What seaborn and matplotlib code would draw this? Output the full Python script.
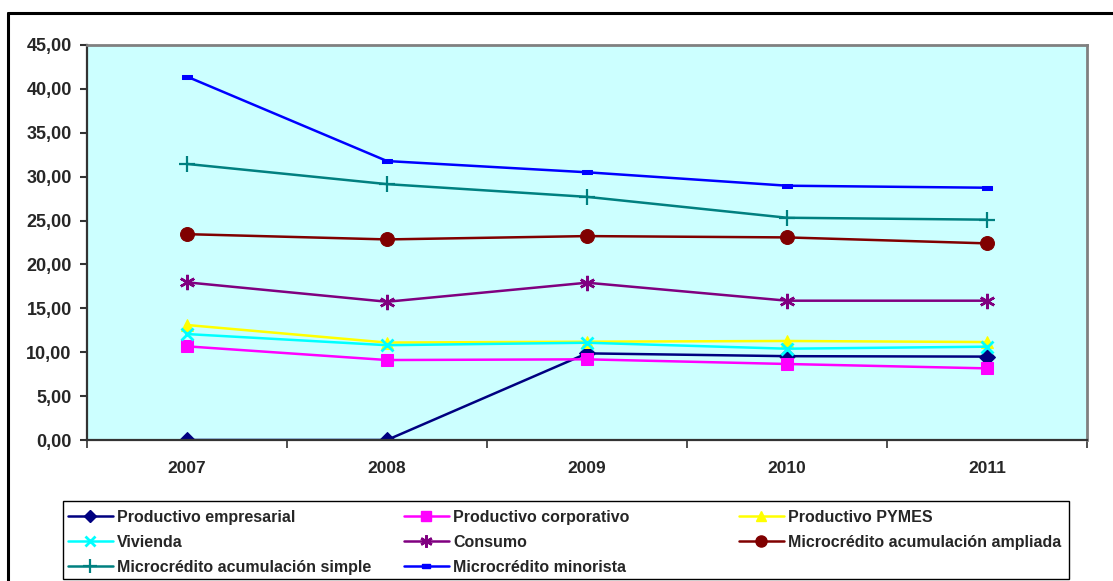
import matplotlib

matplotlib.use("Agg")

import matplotlib.pyplot as plt
import numpy as np
import pandas as pd
import seaborn as sns
from matplotlib.lines import Line2D
from matplotlib.patches import Rectangle
from matplotlib.ticker import FixedLocator, FuncFormatter

# ============================================================
# Datos
# ============================================================
years = ["2007", "2008", "2009", "2010", "2011"]

productivo_empresarial = [0.00, 0.00, 9.87, 9.55, 9.50]
productivo_corporativo = [10.67, 9.11, 9.19, 8.66, 8.16]
productivo_pymes = [13.10, 11.10, 11.20, 11.28, 11.16]
vivienda = [12.07, 10.80, 11.08, 10.40, 10.63]
consumo = [17.96, 15.75, 17.92, 15.87, 15.87]
micro_ampliada = [23.45, 22.85, 23.23, 23.08, 22.40]
micro_simple = [31.45, 29.15, 27.70, 25.32, 25.10]
micro_minorista = [41.40, 31.78, 30.50, 28.97, 28.74]

labels = [
    "Productivo empresarial",
    "Productivo corporativo",
    "Productivo PYMES",
    "Vivienda",
    "Consumo",
    "Microcrédito acumulación ampliada",
    "Microcrédito acumulación simple",
    "Microcrédito minorista",
]
series = [
    productivo_empresarial,
    productivo_corporativo,
    productivo_pymes,
    vivienda,
    consumo,
    micro_ampliada,
    micro_simple,
    micro_minorista,
]
colors = ["#000080", "#FF00FF", "#FFFF00", "#00FFFF",
          "#800080", "#800000", "#008080", "#0000FF"]

# marcador "guion" estilo Excel: rectángulo pequeño horizontal
dash_marker = [(-1, -0.45), (1, -0.45), (1, 0.45), (-1, 0.45), (-1, -0.45)]
asterisk = (6, 2, 0)
marker_styles = [
    dict(marker="D", markersize=8),
    dict(marker="s", markersize=9),
    dict(marker="^", markersize=9),
    dict(marker="x", markersize=9, markeredgewidth=2),
    dict(marker=asterisk, markersize=11, markeredgewidth=1.8),
    dict(marker="o", markersize=10),
    dict(marker="+", markersize=12, markeredgewidth=1.6),
    dict(marker=dash_marker, markersize=7),
]

# ============================================================
# Figura
# ============================================================
sns.set_theme(style="white")
plt.rcParams["font.family"] = ["Liberation Sans", "DejaVu Sans"]
plt.rcParams["font.weight"] = "bold"

W, H = 1113, 581
fig = plt.figure(figsize=(W / 100, H / 100), dpi=100)
ax = fig.add_axes([87 / W, (H - 440) / H, (1087 - 87) / W, (440 - 45) / H])
ax.set_facecolor("#CCFFFF")

x_pos = np.arange(len(years))
handles = []
for lab, vals, col, ms in zip(labels, series, colors, marker_styles):
    df = pd.DataFrame({"x": x_pos, "valor": vals})
    sns.lineplot(data=df, x="x", y="valor", color=col, linewidth=1.8,
                 markeredgecolor=col, markerfacecolor=col, ax=ax, **ms)
    # en la leyenda los marcadores son algo más pequeños
    ms_leg = dict(ms, markersize=ms["markersize"] * 0.8)
    handles.append(Line2D([], [], color=col, linewidth=1.8,
                          markeredgecolor=col, markerfacecolor=col, **ms_leg))

ax.set_xlim(-0.5, len(years) - 0.5)
ax.set_ylim(0, 45)
ax.set_xlabel("")
ax.set_ylabel("")

ax.set_yticks(np.arange(0, 46, 5))
ax.yaxis.set_major_formatter(FuncFormatter(lambda v, p: f"{v:.2f}".replace(".", ",")))
ax.set_xticks(x_pos)
ax.set_xticklabels(years)
ax.xaxis.set_minor_locator(FixedLocator(np.arange(-0.5, len(years), 1.0)))

ax.tick_params(axis="y", which="major", left=True, length=5, width=1.5,
               color="#333333", labelsize=13, pad=6)
ax.tick_params(axis="x", which="major", bottom=False, length=0, labelsize=12.5, pad=15)
ax.tick_params(axis="x", which="minor", bottom=True, length=6, width=1.2, color="#333333")
for lbl in ax.get_xticklabels() + ax.get_yticklabels():
    lbl.set_fontweight("bold")

for side in ["left", "bottom"]:
    ax.spines[side].set_color("#333333")
    ax.spines[side].set_linewidth(1.6)
for side in ["top", "right"]:
    ax.spines[side].set_color("#808080")
    ax.spines[side].set_linewidth(2)

# leyenda: tres columnas de ancho fijo, como en Excel
fig.add_artist(Rectangle((63 / W, (H - 579) / H), (1069 - 63) / W, (579 - 501) / H,
                         transform=fig.transFigure, facecolor="white",
                         edgecolor="black", linewidth=1.0, zorder=1))
columns = [[0, 3, 6], [1, 4, 7], [2, 5]]
col_x = [63, 399, 734]
for idx, cx in zip(columns, col_x):
    leg = fig.legend(
        [handles[i] for i in idx],
        [labels[i] for i in idx],
        loc="upper left",
        bbox_to_anchor=(cx / W, (H - 505) / H),
        frameon=False,
        fontsize=11.5,
        handlelength=2.8,
        handletextpad=0.3,
        borderpad=0.3,
        labelspacing=0.62,
        borderaxespad=0,
    )
    for t in leg.get_texts():
        t.set_fontweight("bold")

# borde exterior del gráfico (solo visible arriba e izquierda)
fig.add_artist(Line2D([8 / W, 8 / W], [0, (H - 13) / H], color="black", linewidth=2.2,
                      transform=fig.transFigure))
fig.add_artist(Line2D([8 / W, 1], [(H - 13) / H, (H - 13) / H], color="black",
                      linewidth=2.2, transform=fig.transFigure))

fig.savefig("out.png", dpi=100, facecolor="white")
plt.close(fig)
